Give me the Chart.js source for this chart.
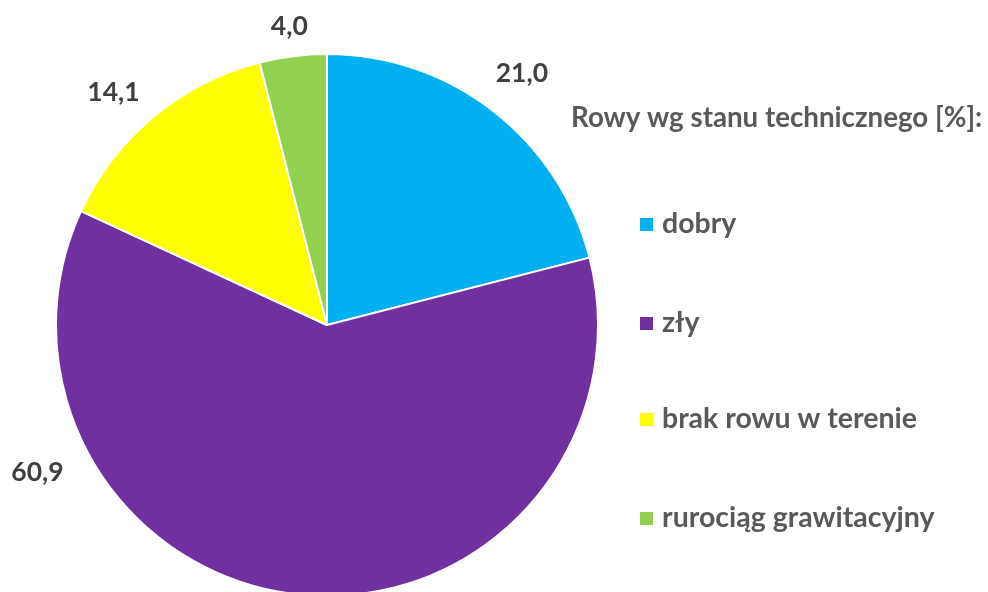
<!DOCTYPE html>
<html>
<head>
<meta charset="utf-8">
<script src="https://cdn.jsdelivr.net/npm/chart.js@4/dist/chart.umd.min.js"></script>
<style>
  html, body { margin: 0; padding: 0; background: #fff; overflow: hidden; }
  #wrap { position: relative; width: 988px; height: 592px; overflow: hidden; }
  #wrap canvas { position: absolute; left: 0; top: 0; }
</style>
</head>
<body>
<div id="wrap"><canvas id="chart" width="988" height="600"></canvas></div>
<script>
// Data
const legend_title = "Rowy wg stanu technicznego [%]:";
const categories = ["dobry", "zły", "brak rowu w terenie", "rurociąg grawitacyjny"];
const values = [21.0, 60.9, 14.1, 4.0];
const slice_colors = ["#00B0F0", "#7030A0", "#FFFF00", "#92D050"];

const font_family = "Lato, 'Open Sans', 'DejaVu Sans', sans-serif";

// value labels outside the pie
const outsideLabels = {
    id: "outsideLabels",
    afterDatasetsDraw(chart){
        const ctx = chart.ctx;
        const arcs = chart.getDatasetMeta(0).data;
        // extra distance from the rim, and angle overrides where Excel moved the label
        const extra = [47, 54, 45, 30];
        const angle_override = [null, 153, 227.5, null];
        ctx.save();
        ctx.font = "bold 26.5px " + font_family;
        ctx.fillStyle = "#404040";
        ctx.textAlign = "center";
        ctx.textBaseline = "middle";
        for(let i = 0; i < arcs.length; i++){
            const arc = arcs[i];
            let a = (arc.startAngle + arc.endAngle) / 2;
            if(angle_override[i] !== null){
                a = angle_override[i] * Math.PI / 180;
            }
            const r = arc.outerRadius + extra[i];
            const x = arc.x + Math.cos(a) * r;
            const y = arc.y + Math.sin(a) * r;
            ctx.fillText(values[i].toFixed(1).replace(".", ","), x, y);
        }
        ctx.restore();
    }
};

// legend drawn on the right side
const sideLegend = {
    id: "sideLegend",
    afterDraw(chart){
        const ctx = chart.ctx;
        ctx.save();
        ctx.font = "bold 27.7px " + font_family;
        ctx.fillStyle = "#595959";
        ctx.textAlign = "left";
        ctx.textBaseline = "middle";
        ctx.fillText(legend_title, 571, 118);

        const item_y = [224, 323, 419, 518];
        for(let i = 0; i < categories.length; i++){
            ctx.fillStyle = slice_colors[i];
            ctx.fillRect(640, item_y[i] - 6, 13, 13);
            ctx.fillStyle = "#595959";
            ctx.font = "bold 28.5px " + font_family;
            ctx.fillText(categories[i], 662, item_y[i]);
        }
        ctx.restore();
    }
};

new Chart(document.getElementById("chart").getContext("2d"), {
    type: "pie",
    data: {
        labels: categories,
        datasets: [{
            data: values,
            backgroundColor: slice_colors,
            borderColor: "#ffffff",
            borderWidth: 2,
            hoverOffset: 0
        }]
    },
    options: {
        responsive: false,
        animation: false,
        rotation: 0,
        layout: { padding: { left: 55, right: 389, top: 53, bottom: 3 } },
        plugins: {
            legend: { display: false },
            tooltip: { enabled: false }
        }
    },
    plugins: [outsideLabels, sideLegend]
});
</script>
</body>
</html>
